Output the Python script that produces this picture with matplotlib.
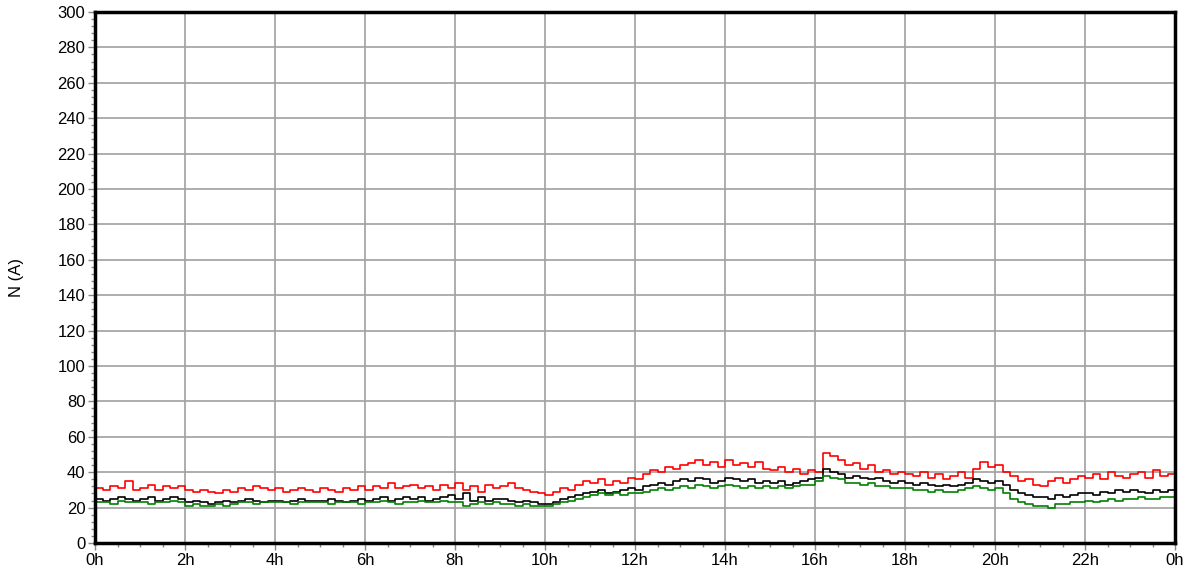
import matplotlib.pyplot as plt
import numpy as np
from matplotlib.ticker import MultipleLocator

plt.rcParams['font.family'] = ['Liberation Sans', 'DejaVu Sans']

# 10-minute samples, one row per hour
red = [
    31, 30, 32, 31, 35, 30,
    31, 33, 30, 32, 31, 32,
    30, 29, 30, 29, 28, 30,
    29, 31, 30, 32, 31, 30,
    31, 29, 30, 31, 30, 29,
    31, 30, 29, 31, 30, 32,
    30, 32, 31, 34, 31, 32,
    33, 31, 32, 30, 33, 31,
    34, 30, 32, 29, 33, 31,
    32, 34, 31, 30, 29, 28,
    27, 29, 31, 30, 33, 35,
    34, 36, 33, 35, 34, 37,
    36, 39, 41, 40, 43, 42,
    44, 45, 47, 44, 46, 43,
    47, 44, 45, 43, 46, 42,
    41, 43, 40, 42, 39, 41,
    40, 51, 49, 47, 44, 45,
    42, 44, 40, 41, 39, 40,
    39, 38, 40, 37, 39, 36,
    38, 40, 37, 42, 46, 43,
    44, 40, 38, 35, 36, 33,
    32, 35, 37, 34, 36, 38,
    37, 39, 36, 40, 38, 37,
    39, 40, 37, 41, 38, 39,
]
black = [
    25, 24, 25, 26, 25, 24,
    25, 26, 24, 25, 26, 25,
    23, 24, 23, 22, 23, 24,
    23, 24, 25, 24, 23, 24,
    24, 23, 24, 25, 24, 24,
    24, 25, 24, 23, 24, 25,
    24, 25, 26, 24, 25, 26,
    25, 26, 24, 25, 26, 27,
    25, 28, 24, 26, 24, 25,
    25, 24, 23, 24, 23, 22,
    22, 23, 25, 26, 27, 28,
    29, 30, 28, 29, 30, 31,
    30, 32, 33, 34, 33, 35,
    36, 35, 37, 36, 34, 35,
    37, 36, 35, 36, 34, 35,
    34, 35, 33, 34, 35, 36,
    37, 42, 40, 39, 37, 38,
    37, 36, 37, 35, 34, 35,
    34, 33, 34, 33, 32, 33,
    32, 33, 34, 36, 35, 34,
    35, 33, 30, 28, 27, 26,
    26, 25, 27, 26, 27, 28,
    28, 27, 29, 28, 30, 29,
    30, 29, 28, 30, 29, 30,
]
green = [
    23, 23, 22, 24, 23, 23,
    23, 22, 23, 23, 24, 23,
    21, 22, 21, 21, 22, 21,
    22, 23, 23, 22, 23, 23,
    23, 23, 22, 23, 23, 23,
    23, 22, 23, 23, 23, 22,
    23, 23, 24, 23, 22, 23,
    23, 24, 23, 23, 24, 23,
    23, 21, 22, 23, 22, 23,
    22, 22, 21, 22, 21, 21,
    21, 22, 23, 24, 25, 26,
    27, 28, 27, 28, 27, 28,
    28, 29, 30, 31, 30, 31,
    32, 31, 33, 32, 31, 32,
    33, 32, 31, 32, 31, 32,
    31, 32, 31, 32, 33, 33,
    35, 38, 37, 36, 34, 34,
    33, 34, 32, 32, 31, 31,
    31, 30, 30, 29, 30, 29,
    29, 30, 31, 32, 31, 30,
    31, 28, 25, 23, 22, 21,
    21, 20, 22, 22, 23, 23,
    24, 23, 24, 25, 24, 25,
    25, 26, 25, 25, 26, 26,
]
hour_labels = ['0h', '2h', '4h', '6h', '8h', '10h', '12h',
               '14h', '16h', '18h', '20h', '22h', '0h']

fig = plt.figure(figsize=(11.89, 5.79), dpi=100)
ax = fig.add_axes([95/1189, 1-543/579, 1080/1189, 531/579])

t = np.arange(len(red) + 1) / 6.0
for vals, col in [(red, '#ff0000'), (black, '#000000'), (green, '#008000')]:
    v = list(vals) + [vals[-1]]
    ax.step(t, v, where='post', color=col, linewidth=1.2)

ax.set_xlim(0, 24)
ax.set_ylim(0, 300)
ax.set_xticks(np.arange(0, 25, 2))
ax.set_xticklabels(hour_labels)
ax.xaxis.set_minor_locator(MultipleLocator(0.5))
ax.yaxis.set_major_locator(MultipleLocator(20))
ax.yaxis.set_minor_locator(MultipleLocator(4))
ax.grid(True, which='major', color='#a0a0a0', linewidth=1.2)
ax.set_axisbelow(True)
ax.tick_params(which='major', length=5, width=1, color='#888888', labelsize=12, pad=2)
ax.tick_params(which='minor', length=3, width=1, color='#888888')
for s in ax.spines.values():
    s.set_linewidth(2.5)
    s.set_color('black')
ax.set_ylabel('N (A)', fontsize=12, labelpad=24)

fig.savefig('out.png', dpi=100)
